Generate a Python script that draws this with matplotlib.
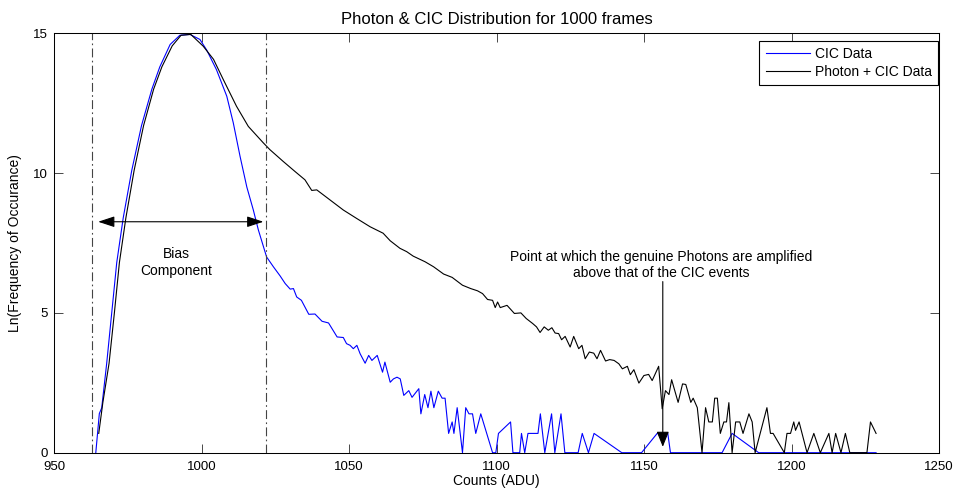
import matplotlib
matplotlib.use("Agg")
import matplotlib.pyplot as plt

# CIC only (blue), ln of counts per ADU bin
cic_x = [964.1, 965.3, 966.1, 967.8, 969.5, 971.2, 973.4, 976.3, 979.6, 983.1,
         985.8, 989.3, 992.6, 996.0, 999.4, 1001.7, 1005.0, 1008.5, 1010.7, 1013.0,
         1015.3, 1017.5, 1019.2, 1022.0, 1024.3, 1026.6, 1028.3, 1030.0, 1031.1, 1032.2,
         1033.8, 1036.3, 1038.4, 1040.8, 1043.0, 1045.9, 1048.0, 1049.1, 1050.3, 1051.4,
         1052.6, 1053.7, 1055.4, 1056.6, 1057.7, 1059.5, 1061.3, 1062.1, 1063.9, 1065.0,
         1066.2, 1067.3, 1068.5, 1070.2, 1071.3, 1073.6, 1074.3, 1075.6, 1076.7, 1077.7,
         1078.7, 1080.2, 1081.5, 1082.5, 1083.7, 1084.9, 1085.5, 1086.6, 1088.4, 1089.5,
         1090.6, 1091.8, 1092.9, 1094.6, 1098.6, 1099.7, 1100.6, 1104.7, 1105.5, 1107.8,
         1108.4, 1109.5, 1110.6, 1114.0, 1114.8, 1116.3, 1118.6, 1119.7, 1121.8, 1123.1,
         1127.6, 1129.0, 1131.1, 1133.0, 1142.4, 1149.1, 1154.4, 1158.0, 1158.9, 1176.4,
         1179.8, 1188.8, 1228.6]
cic_y = [0.0, 1.4, 1.6, 3.2, 5.0, 6.8, 8.4, 10.1, 11.7, 13.0,
         13.8, 14.6, 14.93, 14.96, 14.78, 14.4, 13.7, 12.75, 11.8, 10.6,
         9.5, 8.68, 7.97, 7.0, 6.65, 6.32, 6.05, 5.85, 5.87, 5.57,
         5.45, 4.95, 4.96, 4.70, 4.64, 4.14, 4.12, 3.90, 3.84, 3.72,
         3.84, 3.54, 3.20, 3.48, 3.30, 3.48, 2.88, 3.24, 2.52, 2.64,
         2.70, 2.64, 2.05, 2.22, 1.98, 2.29, 1.39, 2.08, 1.61, 2.20,
         1.61, 2.20, 1.95, 1.95, 0.69, 1.10, 0.69, 1.61, 0.0, 1.61,
         1.39, 1.39, 0.69, 1.39, 0.0, 0.0, 0.69, 1.10, 0.0, 0.0,
         0.69, 0.0, 0.69, 0.69, 1.39, 0.0, 1.39, 0.0, 1.39, 0.0,
         0.0, 0.69, 0.0, 0.69, 0.0, 0.0, 0.69, 0.69, 0.0, 0.0,
         0.69, 0.0, 0.0]

# photons + CIC (black)
total_x = [965.1, 966.5, 968.6, 970.4, 972.1, 974.3, 977.1, 980.3, 983.7, 986.5,
           990.0, 993.0, 996.3, 1000.5, 1004.0, 1007.3, 1011.8, 1015.8, 1020.9, 1023.1,
           1027.6, 1031.6, 1035.0, 1037.3, 1039.0, 1043.5, 1048.0, 1052.5, 1057.1, 1061.5,
           1063.9, 1067.2, 1069.5, 1071.7, 1075.7, 1078.6, 1082.0, 1084.9, 1088.4, 1091.2,
           1093.5, 1095.2, 1096.9, 1098.6, 1099.5, 1100.3, 1101.2, 1103.5, 1106.0, 1108.2,
           1110.0, 1112.2, 1113.5, 1114.7, 1116.1, 1117.5, 1118.7, 1119.8, 1121.0, 1122.0,
           1123.2, 1124.9, 1126.1, 1127.8, 1128.9, 1130.0, 1131.4, 1132.9, 1134.0, 1135.2,
           1136.9, 1138.3, 1139.8, 1141.4, 1142.6, 1144.3, 1145.3, 1146.5, 1148.2, 1149.9,
           1151.5, 1152.7, 1154.9, 1156.1, 1157.2, 1158.4, 1159.3, 1161.5, 1163.0, 1164.1,
           1165.8, 1166.6, 1168.0, 1169.6, 1170.8, 1171.9, 1173.1, 1173.9, 1174.8, 1175.8,
           1177.0, 1177.9, 1178.7, 1179.8, 1181.0, 1182.4, 1183.5, 1185.5, 1186.6, 1187.6,
           1191.6, 1192.8, 1193.7, 1197.5, 1198.4, 1199.6, 1200.7, 1201.3, 1202.5, 1205.2,
           1207.5, 1209.7, 1212.6, 1213.7, 1214.9, 1216.7, 1218.2, 1219.7, 1225.5, 1226.7,
           1228.6]
total_y = [0.69, 1.8, 3.2, 5.0, 6.8, 8.4, 10.1, 11.7, 13.0, 13.8,
           14.55, 14.93, 14.96, 14.54, 14.07, 13.35, 12.39, 11.67, 11.08, 10.84,
           10.42, 10.06, 9.76, 9.38, 9.4, 9.04, 8.68, 8.38, 8.08, 7.85,
           7.58, 7.31, 7.19, 7.03, 6.83, 6.65, 6.39, 6.27, 5.99, 5.87,
           5.79, 5.69, 5.48, 5.45, 5.19, 5.39, 5.19, 5.27, 4.98, 5.0,
           4.80, 4.62, 4.50, 4.30, 4.50, 4.38, 4.47, 4.28, 4.26, 4.04,
           4.16, 3.78, 4.16, 3.72, 3.84, 3.36, 3.60, 3.56, 3.36, 3.66,
           3.28, 3.33, 3.30, 3.18, 3.00, 3.09, 2.79, 2.97, 2.49, 2.76,
           2.80, 2.58, 3.09, 1.57, 2.22, 2.08, 2.61, 1.80, 2.46, 2.44,
           1.80, 1.95, 1.61, 0.0, 1.61, 1.10, 1.10, 1.95, 1.95, 0.69,
           1.10, 1.10, 1.79, 0.0, 1.10, 1.10, 0.69, 1.39, 1.10, 0.0,
           1.61, 0.69, 0.69, 0.0, 0.69, 0.69, 1.10, 0.80, 1.10, 0.0,
           0.69, 0.0, 0.69, 0.0, 0.69, 0.0, 0.69, 0.0, 0.0, 1.10,
           0.69]

bias_lo = 962.7
bias_hi = 1021.8
photon_pt = 1156.3

plt.rcParams['font.family'] = ['Liberation Sans', 'DejaVu Sans']
plt.rcParams['font.size'] = 10

fig = plt.figure(figsize=(9.54, 4.93), dpi=100)
W, H = 954.0, 493.0
ax = fig.add_axes([54.2 / W, 1 - 452.7 / H, (939.2 - 54.2) / W, (452.7 - 33.3) / H])

ax.plot(cic_x, cic_y, color=(0, 0, 1), lw=0.8, label='CIC Data')
ax.plot(total_x, total_y, color='k', lw=0.8, label='Photon + CIC Data')

for xv in (bias_lo, bias_hi):
    ax.axvline(xv, color='#444444', lw=0.8, ls=(0, (8, 3, 1.5, 3)))

ax.annotate('', xy=(bias_lo + 2.2, 8.26), xytext=(bias_hi - 0.9, 8.26),
            arrowprops=dict(arrowstyle='<|-|>,head_length=1.0,head_width=0.33',
                            mutation_scale=10, lw=0.8, color='k',
                            shrinkA=0, shrinkB=0))
ax.text(991.3, 6.8, 'Bias\nComponent', ha='center', va='center', linespacing=1.2)

ax.annotate('', xy=(photon_pt, 0.21), xytext=(photon_pt, 6.12),
            arrowprops=dict(arrowstyle='-|>,head_length=0.94,head_width=0.38',
                            mutation_scale=10, lw=0.8, color='k',
                            shrinkA=0, shrinkB=0))
ax.text(1155.9, 6.71, 'Point at which the genuine Photons are amplified\nabove that of the CIC events',
        ha='center', va='center', linespacing=1.2)

ax.set_xlim(950, 1250)
ax.set_ylim(0, 15)
ax.set_xticks(range(950, 1251, 50))
ax.set_yticks([0, 5, 10, 15])
ax.tick_params(direction='in', length=6.4, width=0.5, top=True, right=True,
               labelsize=9.5)
ax.tick_params(axis='x', pad=6)
ax.tick_params(axis='y', pad=4.5)
for s in ax.spines.values():
    s.set_linewidth(0.75)

ax.set_xlabel('Counts (ADU)', labelpad=1)
ax.set_ylabel('Ln(Frequency of Occurance)', labelpad=8)
ax.set_title('Photon & CIC Distribution for 1000 frames', pad=7)

leg = ax.legend(loc='upper right', bbox_to_anchor=(938.3 / W, 1 - 40.5 / H),
                bbox_transform=fig.transFigure, fancybox=False, edgecolor='k',
                framealpha=1, borderaxespad=0, handlelength=3.2, handletextpad=0.35,
                borderpad=0.45, labelspacing=0.3)
leg.get_frame().set_linewidth(0.8)

fig.savefig('out.png', dpi=100)
